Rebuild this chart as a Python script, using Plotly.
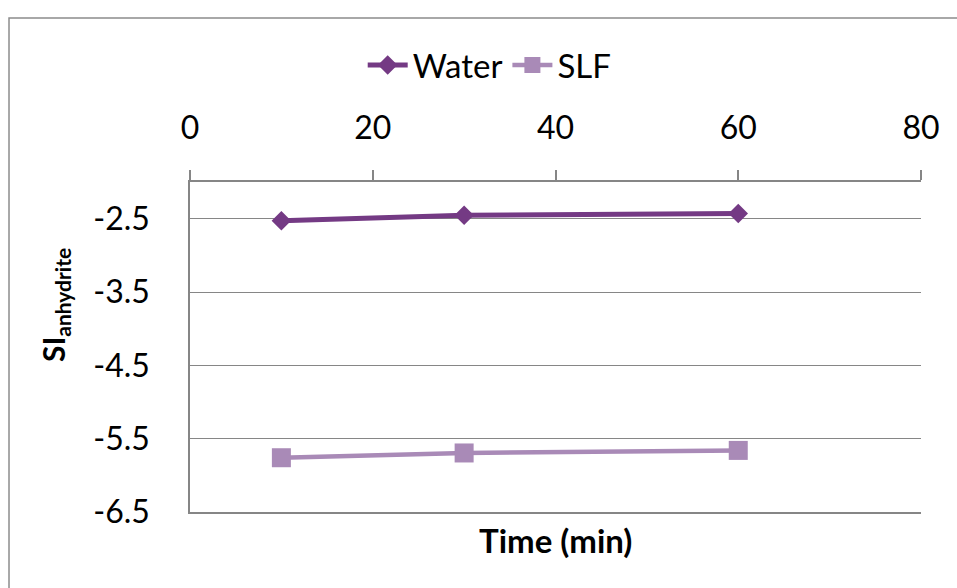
import plotly.graph_objects as go

# Saturation index of anhydrite over time
time_min = [10, 30, 60]
si_water = [-2.53, -2.455, -2.43]
si_slf = [-5.76, -5.695, -5.66]

x_ticks = [0, 20, 40, 60, 80]
y_ticks = [-6.5, -5.5, -4.5, -3.5, -2.5]

water_color = "#743A84"
slf_color = "#A98AB7"
grid_color = "#868686"
font_family = "Lato, 'Liberation Sans', sans-serif"

fig = go.Figure()
fig.add_trace(go.Scatter(
    x=time_min, y=si_water, name="Water", mode="lines+markers",
    line=dict(color=water_color, width=5),
    marker=dict(symbol="diamond", size=15, color=water_color),
))
fig.add_trace(go.Scatter(
    x=time_min, y=si_slf, name="SLF", mode="lines+markers",
    line=dict(color=slf_color, width=4.5),
    marker=dict(symbol="square", size=19, color=slf_color),
))

fig.update_layout(
    width=957, height=588,
    margin=dict(l=190, r=36, t=182, b=76),
    paper_bgcolor="white", plot_bgcolor="white",
    font=dict(family=font_family, size=32, color="black"),
    showlegend=True,
    legend=dict(
        orientation="h", x=0.41, y=1.3545, xanchor="center", yanchor="middle",
        font=dict(size=33), itemwidth=40, bgcolor="rgba(0,0,0,0)",
    ),
    xaxis=dict(
        range=[0, 80], tickvals=x_ticks, side="top",
        showline=True, mirror=True, linecolor=grid_color, linewidth=1.5,
        ticks="outside", ticklen=10, tickwidth=1.5, tickcolor=grid_color,
        showgrid=False, zeroline=False, ticklabelstandoff=18,
        tickfont=dict(size=32),
    ),
    yaxis=dict(
        range=[-6.5, -2.0], tickvals=y_ticks, ticktext=[str(v) for v in y_ticks],
        showline=True, linecolor=grid_color, linewidth=1.5,
        showgrid=True, gridcolor=grid_color, gridwidth=1.3,
        zeroline=False, ticks="", ticklabelstandoff=32,
        tickfont=dict(size=32),
    ),
    annotations=[
        dict(
            text="<b>SI<sub>anhydrite</sub></b>", textangle=-90,
            xref="paper", yref="paper", x=-0.1847, y=0.627,
            xanchor="center", yanchor="middle", showarrow=False,
            font=dict(size=30, color="black"),
        ),
        dict(
            text="<b>Time (min)</b>",
            xref="paper", yref="paper", x=0.5, y=-0.085,
            xanchor="center", yanchor="middle", showarrow=False,
            font=dict(size=33, color="black"),
        ),
    ],
    shapes=[
        dict(
            type="rect", xref="paper", yref="paper",
            x0=-0.2476, x1=1.06, y0=-0.3, y1=1.497,
            line=dict(color="#8C8C8C", width=1.5), layer="above",
        ),
    ],
)

fig.write_html("out.html")
